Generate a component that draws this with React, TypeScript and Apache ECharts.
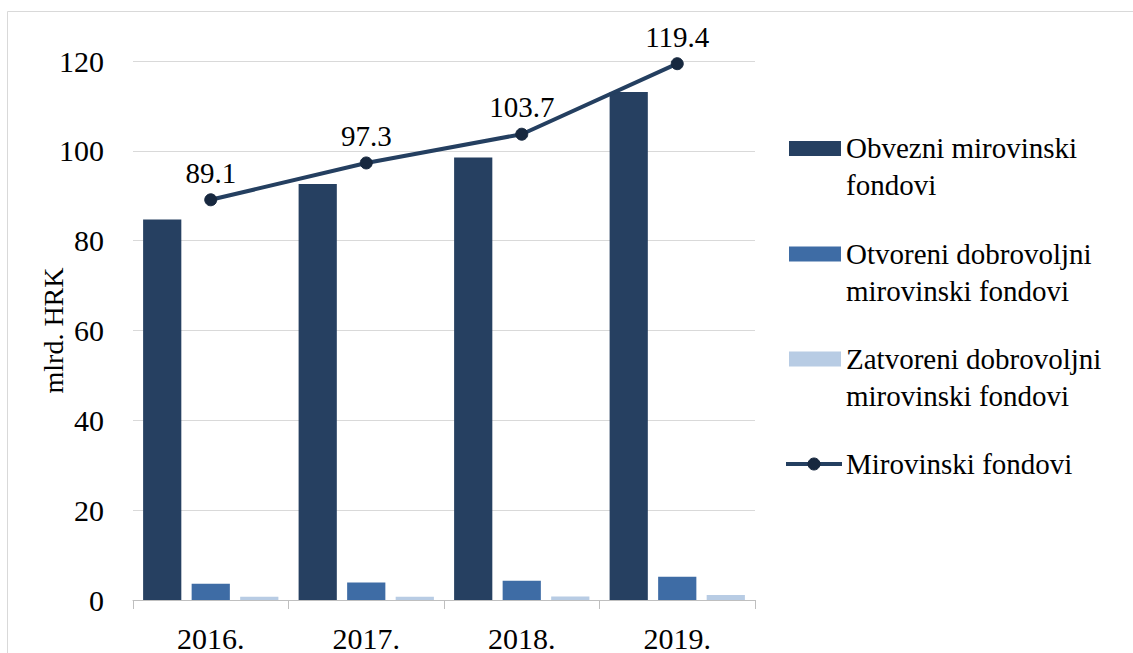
import React, { useEffect, useRef } from "react";
import * as echarts from "echarts";

const categories = ["2016.", "2017.", "2018.", "2019."];
const obvezni = [84.7, 92.6, 98.5, 113.1];
const otvoreni = [3.6, 3.9, 4.3, 5.2];
const zatvoreni = [0.7, 0.7, 0.8, 1.1];
const ukupno = [89.1, 97.3, 103.7, 119.4];
const seriesNames = [
  "Obvezni mirovinski\nfondovi",
  "Otvoreni dobrovoljni\nmirovinski fondovi",
  "Zatvoreni dobrovoljni\nmirovinski fondovi",
  "Mirovinski fondovi",
];
const colors = ["#264061", "#3e6ca5", "#b8cce4", "#243f60"];
const yAxisName = "mlrd. HRK";

const FONT = "Liberation Serif";

export default function App() {
  const ref = useRef<HTMLDivElement>(null);
  useEffect(() => {
    if (!ref.current) return;
    const chart = echarts.init(ref.current, null, { renderer: "svg" });

    const legendCenter = [148.5, 254, 359, 464];
    const legendGraphics: any[] = [];
    seriesNames.forEach((name, i) => {
      const cy = legendCenter[i];
      if (i < 3) {
        legendGraphics.push({
          type: "rect",
          shape: { x: 789, y: cy - 7.5, width: 52, height: 15 },
          style: { fill: colors[i] },
        });
      } else {
        legendGraphics.push({
          type: "line",
          shape: { x1: 786, y1: cy, x2: 842, y2: cy },
          style: { stroke: colors[3], lineWidth: 4 },
        });
        legendGraphics.push({
          type: "circle",
          shape: { cx: 814, cy: cy, r: 6 },
          style: { fill: "#17283f", stroke: "#17283f", lineWidth: 1 },
        });
      }
      legendGraphics.push({
        type: "text",
        x: 846,
        y: cy - 19,
        style: {
          text: name,
          fontFamily: FONT,
          fontSize: 29,
          fill: "#000",
          lineHeight: 37,
          verticalAlign: "top",
        },
      });
    });

    chart.setOption({
      animation: false,
      backgroundColor: "#fff",
      textStyle: { fontFamily: FONT },
      grid: { left: 133, right: 378, top: 61, bottom: 48, containLabel: false },
      graphic: [
        {
          type: "rect",
          shape: { x: 7.5, y: 11.5, width: 1200, height: 700 },
          style: { fill: "none", stroke: "#d9d9d9", lineWidth: 1 },
          silent: true,
        },
        ...legendGraphics,
      ],
      xAxis: {
        type: "category",
        data: categories,
        boundaryGap: true,
        axisLine: { show: true, lineStyle: { color: "#bfbfbf", width: 1 } },
        axisTick: { show: true, length: 9, lineStyle: { color: "#bfbfbf" } },
        axisLabel: { color: "#000", fontSize: 30, fontFamily: FONT, margin: 23 },
      },
      yAxis: {
        type: "value",
        min: 0,
        max: 120,
        interval: 20,
        name: yAxisName,
        nameLocation: "middle",
        nameGap: 66,
        nameMoveOverlap: false,
        nameTextStyle: { color: "#000", fontSize: 28, fontFamily: FONT },
        axisLine: { show: false },
        axisTick: { show: false },
        axisLabel: { color: "#000", fontSize: 30, fontFamily: FONT, margin: 29 },
        splitLine: { lineStyle: { color: "#d9d9d9", width: 1 } },
      },
      series: [
        {
          name: seriesNames[0],
          type: "bar",
          data: obvezni,
          itemStyle: { color: colors[0] },
          barGap: "27%",
          barCategoryGap: "13%",
        },
        {
          name: seriesNames[1],
          type: "bar",
          data: otvoreni,
          itemStyle: { color: colors[1] },
        },
        {
          name: seriesNames[2],
          type: "bar",
          data: zatvoreni,
          itemStyle: { color: colors[2] },
        },
        {
          name: seriesNames[3],
          type: "line",
          data: ukupno,
          symbol: "circle",
          symbolSize: 12,
          lineStyle: { color: colors[3], width: 4 },
          itemStyle: { color: "#17283f", borderColor: "#17283f" },
          label: {
            show: true,
            position: "top",
            distance: 6,
            color: "#000",
            fontSize: 29,
            fontFamily: FONT,
            formatter: (p: any) => p.value.toFixed(1),
          },
          z: 5,
        },
      ],
    });
    return () => chart.dispose();
  }, []);
  return (
    <div
      ref={ref}
      style={{ position: "fixed", left: 0, top: 0, width: 1133, height: 653 }}
    />
  );
}
